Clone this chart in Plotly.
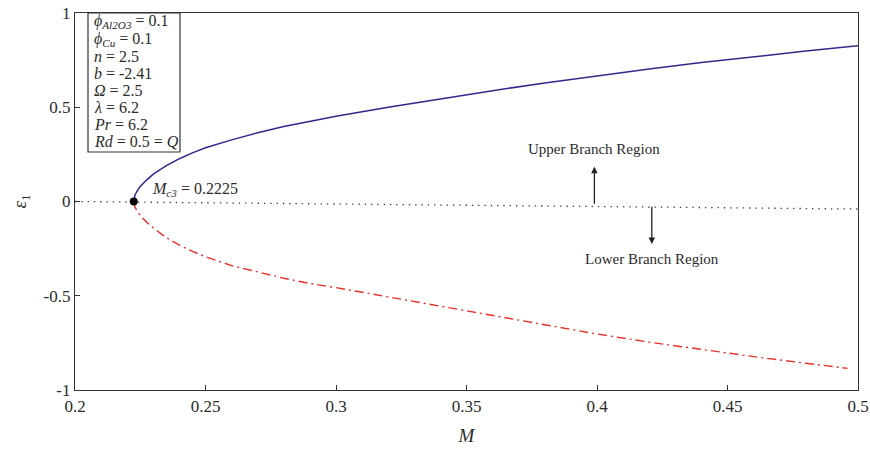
import plotly.graph_objects as go

# Critical point where the two solution branches meet
M_crit = 0.2225

# Upper (first) solution branch
M_upper = [0.2225, 0.223, 0.224, 0.225, 0.2275, 0.23, 0.235, 0.24, 0.245, 0.25, 0.26, 0.27,
           0.28, 0.29, 0.30, 0.32, 0.34, 0.36, 0.38, 0.40, 0.42, 0.44, 0.46, 0.48, 0.50]
eps_upper = [0.0, 0.035, 0.06, 0.08, 0.115, 0.145, 0.19, 0.227, 0.258, 0.285, 0.327, 0.365,
             0.398, 0.427, 0.452, 0.50, 0.545, 0.588, 0.629, 0.667, 0.703, 0.737, 0.769, 0.798, 0.826]

# Lower (second) solution branch
M_lower = [0.2225, 0.223, 0.224, 0.225, 0.2275, 0.23, 0.235, 0.24, 0.245, 0.25, 0.26, 0.27,
           0.28, 0.29, 0.30, 0.32, 0.34, 0.36, 0.38, 0.40, 0.42, 0.44, 0.46, 0.48, 0.496]
eps_lower = [0.0, -0.03, -0.055, -0.075, -0.11, -0.14, -0.192, -0.232, -0.265, -0.293, -0.34, -0.375,
             -0.407, -0.435, -0.457, -0.506, -0.555, -0.603, -0.651, -0.703, -0.746, -0.786, -0.823,
             -0.858, -0.885]

# Dotted boundary separating the two regions
M_sep = [0.2, 0.5]
eps_sep = [0.0, -0.04]

x_ticks = [0.2, 0.25, 0.3, 0.35, 0.4, 0.45, 0.5]
x_ticktext = ["0.2", "0.25", "0.3", "0.35", "0.4", "0.45", "0.5"]
y_ticks = [-1, -0.5, 0, 0.5, 1]
y_ticktext = ["-1", "-0.5", "0", "0.5", "1"]

params = [
    "<i>ϕ</i><sub><i>Al2O3</i></sub> = 0.1",
    "<i>ϕ</i><sub><i>Cu</i></sub> = 0.1",
    "<i>n</i> = 2.5",
    "<i>b</i> = -2.41",
    "<i>Ω</i> = 2.5",
    "<i>λ</i> = 6.2",
    "<i>Pr</i> = 6.2",
    "<i>Rd</i> = 0.5 = <i>Q</i>",
]

FONT = "Liberation Serif"
TXT = "#2b2b2b"

# plot-area geometry (px) used to place the parameter box
PLOT_W, PLOT_H = 783, 377
BOX_LEFT, BOX_RIGHT, BOX_BOTTOM = 13, 105, 139
LINE_STEP, FIRST_LINE = 17.1, 9

fig = go.Figure()

fig.add_trace(go.Scatter(x=M_sep, y=eps_sep, mode="lines",
                         line=dict(color="#333333", width=1.3, dash="1.3px,5px"),
                         hoverinfo="skip"))
fig.add_trace(go.Scatter(x=M_upper, y=eps_upper, mode="lines",
                         line=dict(color="#2e2a8c", width=1.5),
                         name="Upper branch"))
fig.add_trace(go.Scatter(x=M_lower, y=eps_lower, mode="lines",
                         line=dict(color="#e8302a", width=1.4, dash="9px,4px,2px,4px"),
                         name="Lower branch"))
fig.add_trace(go.Scatter(x=[M_crit], y=[0.0], mode="markers",
                         marker=dict(color="black", size=8),
                         name="Critical point"))

annotations = []
for i, line in enumerate(params):
    annotations.append(dict(
        x=(BOX_LEFT + 4) / PLOT_W, y=1 - (FIRST_LINE + i * LINE_STEP) / PLOT_H,
        xref="paper", yref="paper", xanchor="left", yanchor="middle",
        text=line, showarrow=False, align="left",
        font=dict(family=FONT, size=16, color=TXT)))

annotations += [
    # critical point label
    dict(x=M_crit, y=0.0, xref="x", yref="y", xanchor="left", yanchor="bottom",
         xshift=16, yshift=1,
         text=f"<i>M</i><sub><i>c3</i></sub> = {M_crit}", showarrow=False,
         font=dict(family=FONT, size=16, color=TXT)),
    # region arrows
    dict(x=0.399, y=0.185, ax=0.399, ay=-0.02, xref="x", yref="y", axref="x", ayref="y",
         text="", showarrow=True, arrowhead=2, arrowsize=1, arrowwidth=1.3,
         arrowcolor="#222222"),
    dict(x=0.421, y=-0.225, ax=0.421, ay=-0.02, xref="x", yref="y", axref="x", ayref="y",
         text="", showarrow=True, arrowhead=2, arrowsize=1, arrowwidth=1.3,
         arrowcolor="#222222"),
    dict(x=0.399, y=0.28, xref="x", yref="y", text="Upper Branch Region",
         showarrow=False, font=dict(family=FONT, size=15, color=TXT)),
    dict(x=0.421, y=-0.305, xref="x", yref="y", text="Lower Branch Region",
         showarrow=False, font=dict(family=FONT, size=15, color=TXT)),
]

shapes = [dict(type="rect", xref="paper", yref="paper",
               x0=BOX_LEFT / PLOT_W, x1=BOX_RIGHT / PLOT_W,
               y0=1 - BOX_BOTTOM / PLOT_H, y1=1,
               line=dict(color="#333333", width=1.2), fillcolor="white", layer="above")]

axis_common = dict(
    showgrid=False, zeroline=False, showline=True, linecolor="#333333", linewidth=1.3,
    mirror=True, ticks="inside", ticklen=5, tickwidth=1, tickcolor="#333333",
    tickfont=dict(family=FONT, size=17, color=TXT), automargin=False,
)

fig.update_layout(
    width=870, height=449,
    margin=dict(l=75, r=12, t=13, b=59),
    paper_bgcolor="white", plot_bgcolor="white",
    showlegend=False,
    annotations=annotations,
    shapes=shapes,
    xaxis=dict(range=[0.2, 0.5], tickvals=x_ticks, ticktext=x_ticktext,
               title=dict(text="<i>M</i>", font=dict(family=FONT, size=19, color=TXT),
                          standoff=14),
               **axis_common),
    yaxis=dict(range=[-1, 1], tickvals=y_ticks, ticktext=y_ticktext,
               title=dict(text="<i>ε</i><sub>1</sub>", font=dict(family=FONT, size=19, color=TXT),
                          standoff=11),
               **axis_common),
)

fig.write_html("out.html")
